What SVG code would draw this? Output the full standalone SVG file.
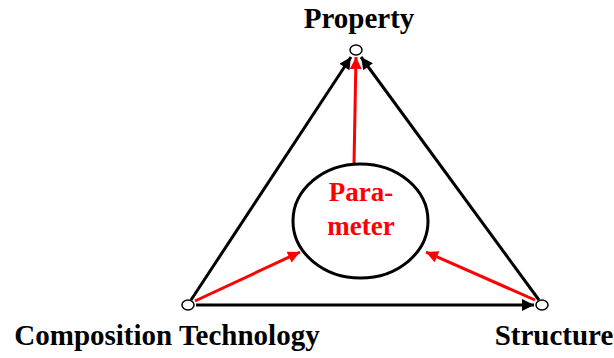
<svg xmlns="http://www.w3.org/2000/svg" width="614" height="358" viewBox="0 0 614 358">
<style>
.lbl{font-family:"Liberation Serif","Times New Roman",serif;font-weight:bold;font-size:29px;fill:#000}
.red{fill:#ff0000;font-size:27px}
.blk{stroke:#000;stroke-width:3;fill:none}
.rl{stroke:#ff0000;stroke-width:3;fill:none}
.dot{fill:#fff;stroke:#000;stroke-width:1.5}
</style>
<defs>
<marker id="ab" viewBox="0 0 10 10" refX="10" refY="5" markerWidth="4.5" markerHeight="4" orient="auto" markerUnits="strokeWidth"><path d="M0,0 L10,5 L0,10 Z" fill="#000"/></marker>
<marker id="ar" viewBox="0 0 10 10" refX="10" refY="5" markerWidth="4.5" markerHeight="4" orient="auto" markerUnits="strokeWidth"><path d="M0,0 L10,5 L0,10 Z" fill="#ff0000"/></marker>
</defs>
<g id="connectors">
<line class="blk" x1="191" y1="300" x2="351" y2="57" marker-end="url(#ab)"/>
<line class="blk" x1="539" y1="300" x2="361" y2="57" marker-end="url(#ab)"/>
<line class="blk" x1="196" y1="305" x2="534" y2="305" marker-end="url(#ab)"/>
<line class="rl" x1="354" y1="164" x2="356" y2="57" marker-end="url(#ar)"/>
<line class="rl" x1="195" y1="301" x2="300" y2="252" marker-end="url(#ar)"/>
<line class="rl" x1="535" y1="300" x2="426" y2="252" marker-end="url(#ar)"/>
</g>
<g id="property"><ellipse class="dot" cx="356" cy="50" rx="6" ry="5"/><text class="lbl" x="359" y="28" text-anchor="middle">Property</text></g>
<g id="composition"><ellipse class="dot" cx="188" cy="305" rx="6" ry="5"/><text class="lbl" x="167" y="345" text-anchor="middle">Composition Technology</text></g>
<g id="structure"><ellipse class="dot" cx="542" cy="305" rx="6" ry="5"/><text class="lbl" x="554" y="345" text-anchor="middle">Structure</text></g>
<g id="parameter"><ellipse cx="360.5" cy="221" rx="67.5" ry="57" fill="#fff" stroke="#000" stroke-width="3"/>
<text class="lbl red" x="361" y="201" text-anchor="middle">Para-</text>
<text class="lbl red" x="361" y="235" text-anchor="middle">meter</text></g>
</svg>
